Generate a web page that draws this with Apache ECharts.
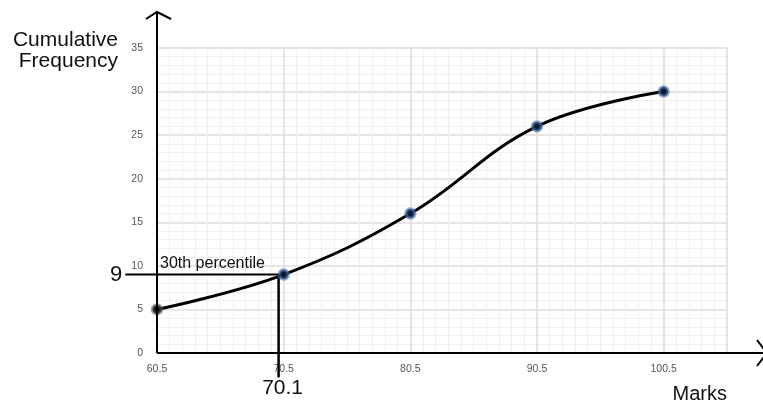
<!DOCTYPE html>
<html><head><meta charset="utf-8">
<script src="https://cdn.jsdelivr.net/npm/echarts@6/dist/echarts.min.js"></script>
<style>html,body{margin:0;padding:0;background:#fff}#c{width:763px;height:403px}</style>
</head><body><div id="c"></div>
<script>
// Data
const marks = [60.5, 70.5, 80.5, 90.5, 100.5];
const cumFreq = [5, 9, 16, 26, 30];
const xTickLabels = ['60.5', '70.5', '80.5', '90.5', '100.5'];
const yTickLabels = ['0', '5', '10', '15', '20', '25', '30', '35'];
const percentileValue = [70.1, 9];       // [mark, cumulative frequency]
const percentileGuideStartX = [58];      // where the horizontal guide begins
const percentileGuideEndY = [-2.8];      // where the vertical guide ends
const percentileText = '30th percentile';

const FONT = '"Liberation Sans", Arial, Helvetica, sans-serif';

const curveData = marks.map((m, i) => ({
  value: [m, cumFreq[i]],
  itemStyle: i === 0 ? { color: '#111', borderColor: 'rgba(90,90,90,0.55)' } : {}
}));

const chart = echarts.init(document.getElementById('c'));
const option = {
  animation: false,
  backgroundColor: '#fff',
  grid: { left: 157, right: 36, top: 48, bottom: 50, containLabel: false },
  xAxis: {
    type: 'value', min: 60.5, max: 105.5, interval: 10,
    axisLine: { show: false }, axisTick: { show: false },
    axisLabel: {
      color: '#555', fontSize: 10.5, fontFamily: FONT, margin: 11,
      formatter: v => { const s = v.toFixed(1); return xTickLabels.indexOf(s) >= 0 ? s : ''; }
    },
    splitLine: { show: true, lineStyle: { color: '#dcdcdc', width: 1.5 } },
    minorTick: { show: false, splitNumber: 10 },
    minorSplitLine: { show: true, lineStyle: { color: '#efefef', width: 1 } }
  },
  yAxis: {
    type: 'value', min: 0, max: 35, interval: 5,
    axisLine: { show: false }, axisTick: { show: false },
    axisLabel: {
      color: '#555', fontSize: 10.5, fontFamily: FONT, margin: 14,
      formatter: v => yTickLabels[Math.round(v / 5)] || ''
    },
    splitLine: { show: true, lineStyle: { color: '#dcdcdc', width: 1.5 } },
    minorTick: { show: false, splitNumber: 5 },
    minorSplitLine: { show: true, lineStyle: { color: '#efefef', width: 1 } }
  },
  series: [
    {
      type: 'line', smooth: 0.4, data: curveData,
      lineStyle: { color: '#000', width: 3 },
      symbol: 'circle', symbolSize: 9,
      itemStyle: { color: '#0e1a30', borderColor: 'rgba(70,110,170,0.6)', borderWidth: 3.5 },
      z: 5
    }
  ]
};
chart.setOption(option);

const px = (x, y) => chart.convertToPixel({ gridIndex: 0 }, [x, y]);
const o = px(60.5, 0);
const pv = px(percentileValue[0], percentileValue[1]);
const hStart = px(percentileGuideStartX[0], percentileValue[1]);
const vEnd = px(percentileValue[0], percentileGuideEndY[0]);
const txtPos = px(60.5, percentileValue[1]);

chart.setOption({
  graphic: [
    { type: 'line', shape: { x1: hStart[0], y1: pv[1], x2: pv[0] + 4, y2: pv[1] }, style: { stroke: '#000', lineWidth: 2 }, z: 4 },
    { type: 'line', shape: { x1: pv[0], y1: pv[1], x2: pv[0], y2: vEnd[1] }, style: { stroke: '#000', lineWidth: 2.5 }, z: 4 },
    { type: 'line', shape: { x1: o[0], y1: o[1], x2: o[0], y2: 13 }, style: { stroke: '#000', lineWidth: 2 }, z: 10 },
    { type: 'polyline', shape: { points: [[o[0] - 11, 19], [o[0], 12], [o[0] + 14, 19]] }, style: { stroke: '#000', lineWidth: 2, fill: null }, z: 10 },
    { type: 'line', shape: { x1: o[0], y1: o[1], x2: 766, y2: o[1] }, style: { stroke: '#000', lineWidth: 2 }, z: 10 },
    { type: 'polyline', shape: { points: [[757, o[1] - 13], [767, o[1]], [757, o[1] + 13]] }, style: { stroke: '#000', lineWidth: 2, fill: null }, z: 10 },
    { type: 'text', x: 118, y: 40, style: { text: 'Cumulative', font: '21px ' + FONT, fill: '#111', align: 'right', verticalAlign: 'middle' } },
    { type: 'text', x: 118, y: 61, style: { text: 'Frequency', font: '21px ' + FONT, fill: '#111', align: 'right', verticalAlign: 'middle' } },
    { type: 'text', x: 727, y: 394, style: { text: 'Marks', font: '20px ' + FONT, fill: '#111', align: 'right', verticalAlign: 'middle' } },
    { type: 'text', x: hStart[0] - 3, y: hStart[1], style: { text: String(percentileValue[1]), font: '22px ' + FONT, fill: '#111', align: 'right', verticalAlign: 'middle' } },
    { type: 'text', x: vEnd[0] + 4, y: vEnd[1] + 11, style: { text: String(percentileValue[0]), font: '21px ' + FONT, fill: '#111', align: 'center', verticalAlign: 'middle' } },
    { type: 'text', x: txtPos[0] + 3, y: txtPos[1] - 11, style: { text: percentileText, font: '16px ' + FONT, fill: '#111', align: 'left', verticalAlign: 'middle' } }
  ]
});
</script>
</body></html>
